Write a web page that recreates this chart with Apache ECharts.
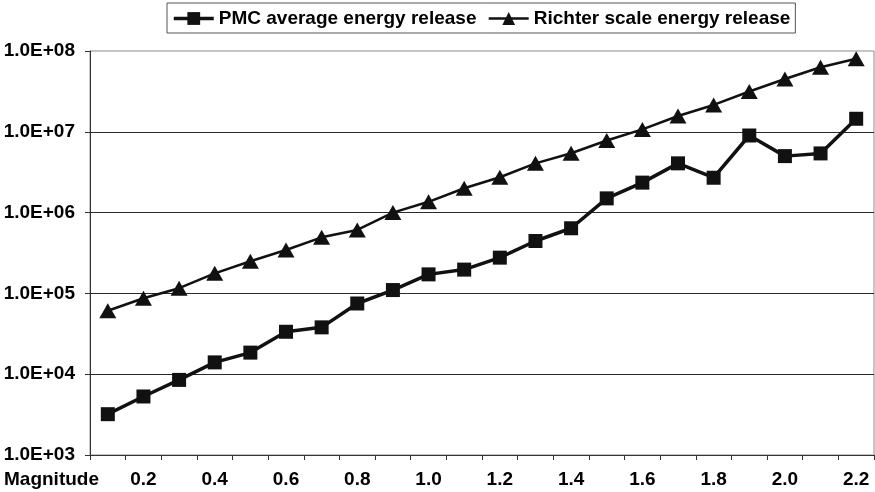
<!DOCTYPE html>
<html>
<head>
<meta charset="utf-8">
<script src="https://cdn.jsdelivr.net/npm/echarts@6/dist/echarts.min.js"></script>
<style>
  html, body { margin: 0; padding: 0; background: #fff; }
  #chart { width: 875px; height: 492px; }
</style>
</head>
<body>
<div id="chart"></div>
<script>
// Magnitude categories along the x axis
const magnitudes = ['0.1','0.2','0.3','0.4','0.5','0.6','0.7','0.8','0.9','1.0','1.1',
                    '1.2','1.3','1.4','1.5','1.6','1.7','1.8','1.9','2.0','2.1','2.2'];

// PMC average energy release per magnitude
const pmcEnergy = [3.2e3, 5.3e3, 8.5e3, 1.4e4, 1.85e4, 3.35e4, 3.8e4, 7.5e4, 1.1e5, 1.72e5, 1.97e5,
                   2.77e5, 4.45e5, 6.4e5, 1.5e6, 2.35e6, 4.07e6, 2.7e6, 9.0e6, 5.0e6, 5.4e6, 1.45e7];

// Richter scale energy release per magnitude
const richterEnergy = [6.1e4, 8.7e4, 1.16e5, 1.77e5, 2.5e5, 3.44e5, 4.94e5, 6.1e5, 1.0e6, 1.36e6, 2.0e6,
                       2.74e6, 4.07e6, 5.42e6, 7.8e6, 1.07e7, 1.57e7, 2.15e7, 3.15e7, 4.5e7, 6.3e7, 8.0e7];

// Labels for the logarithmic y axis, one per decade from 1e3 to 1e8
const yTickLabels = ['1.0E+03','1.0E+04','1.0E+05','1.0E+06','1.0E+07','1.0E+08'];

const FONT = '"Liberation Sans", Arial, Helvetica, sans-serif';
const FS = 19;

const chart = echarts.init(document.getElementById('chart'), null, { renderer: 'canvas' });

chart.setOption({
  animation: false,
  backgroundColor: '#fff',
  textStyle: { fontFamily: FONT },
  grid: {
    left: 90, right: 1, top: 51, bottom: 37,
    show: true, borderColor: '#8c8c8c', borderWidth: 1, backgroundColor: 'transparent'
  },
  legend: {
    left: 167, top: 3,
    itemWidth: 40, itemHeight: 16, itemGap: 11,
    padding: [6, 5, 5, 5],
    borderColor: '#555', borderWidth: 1,
    textStyle: { fontFamily: FONT, fontSize: FS, fontWeight: 'bold', color: '#000' },
    data: [
      { name: 'PMC average energy release', lineStyle: { width: 3.5, color: '#111' } },
      { name: 'Richter scale energy release', lineStyle: { width: 2.5, color: '#111' } }
    ]
  },
  graphic: [{
    type: 'text', left: 4, top: 470,
    style: { text: 'Magnitude', font: 'bold ' + FS + 'px ' + FONT, fill: '#000' }
  }],
  xAxis: {
    type: 'category',
    data: magnitudes,
    boundaryGap: true,
    axisLine: { lineStyle: { color: '#333', width: 1 } },
    axisTick: { show: true, interval: 0, length: 5, lineStyle: { color: '#333' } },
    axisLabel: {
      interval: (idx) => idx % 2 === 1,
      margin: 15,
      fontFamily: FONT, fontSize: FS, fontWeight: 'bold', color: '#000'
    },
    splitLine: { show: false }
  },
  yAxis: {
    type: 'log',
    logBase: 10,
    min: 1e3, max: 1e8,
    axisLine: { show: true, lineStyle: { color: '#333', width: 1 } },
    axisTick: { show: true, length: 5, lineStyle: { color: '#333' } },
    axisLabel: {
      margin: 15,
      fontFamily: FONT, fontSize: FS, fontWeight: 'bold', color: '#000',
      formatter: (v) => yTickLabels[Math.round(Math.log10(v)) - 3] || ''
    },
    splitLine: {
      show: true,
      showMaxLine: false,
      lineStyle: { color: '#2a2a2a', width: 1 }
    },
    minorTick: { show: false }
  },
  series: [
    {
      name: 'PMC average energy release',
      type: 'line',
      data: pmcEnergy,
      symbol: 'rect',
      symbolSize: 14,
      showAllSymbol: true,
      lineStyle: { color: '#111', width: 3.5 },
      itemStyle: { color: '#111', borderWidth: 0 },
      z: 3
    },
    {
      name: 'Richter scale energy release',
      type: 'line',
      data: richterEnergy,
      symbol: 'triangle',
      symbolSize: [17, 15],
      showAllSymbol: true,
      lineStyle: { color: '#111', width: 2.5 },
      itemStyle: { color: '#111', borderWidth: 0 },
      z: 2
    }
  ]
});
</script>
</body>
</html>
